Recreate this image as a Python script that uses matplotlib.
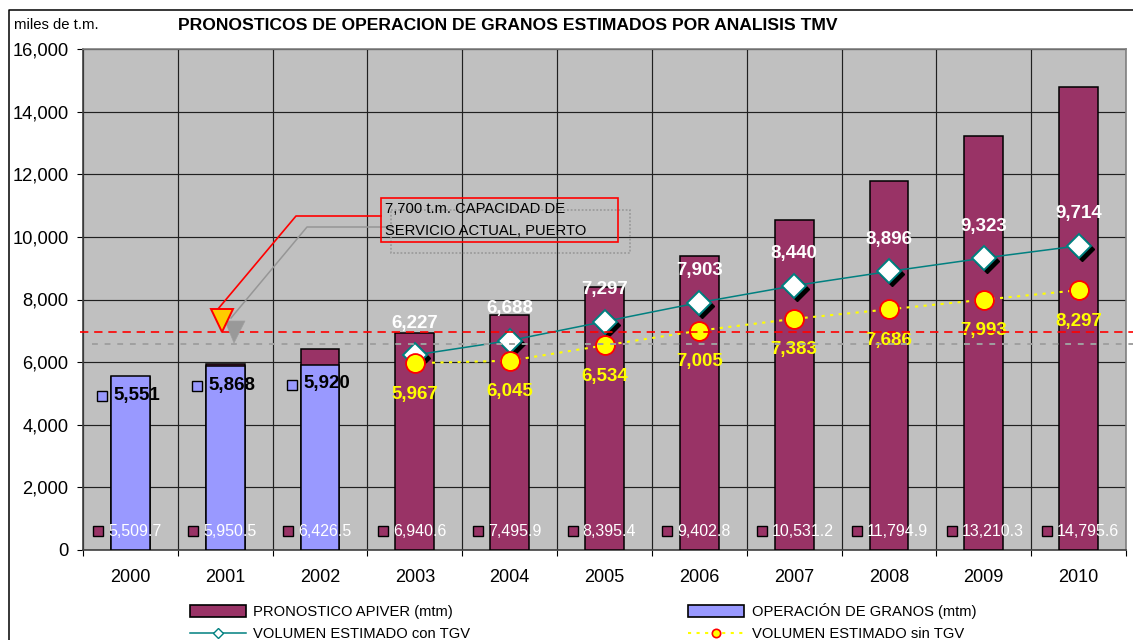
import matplotlib
matplotlib.use("Agg")
import matplotlib.pyplot as plt
from matplotlib.lines import Line2D
from matplotlib.patches import Patch, Polygon, Rectangle
from matplotlib.transforms import ScaledTranslation, blended_transform_factory, Affine2D

years = ["2000", "2001", "2002", "2003", "2004", "2005", "2006", "2007", "2008", "2009", "2010"]
pronostico = [5509.7, 5950.5, 6426.5, 6940.6, 7495.9, 8395.4, 9402.8, 10531.2, 11794.9, 13210.3, 14795.6]
operacion = [5551, 5868, 5920]
con_tgv = [6227, 6688, 7297, 7903, 8440, 8896, 9323, 9714]
sin_tgv = [5967, 6045, 6534, 7005, 7383, 7686, 7993, 8297]
capacity_line = 6960
capacity_shadow = 6590
yticks = [0, 2000, 4000, 6000, 8000, 10000, 12000, 14000, 16000]

W, H = 1133, 640
DPI = 100
PURPLE, BLUE, GRAY = "#993366", "#9999FF", "#C0C0C0"
TEAL = "#008080"
plt.rcParams["font.family"] = ["Liberation Sans", "DejaVu Sans"]

fig = plt.figure(figsize=(W / DPI, H / DPI), dpi=DPI, facecolor="white")
L, R, T, B = 83, 1126, 49, 550
ax = fig.add_axes([L / W, 1 - B / H, (R - L) / W, (B - T) / H], facecolor=GRAY)

# screen-pixel coordinates (y down) for drawn shapes and legend placement
pix = Affine2D().scale(1 / W, -1 / H).translate(0, 1) + fig.transFigure


def shift(dx, dy):
    return ax.transData + ScaledTranslation(dx / DPI, -dy / DPI, fig.dpi_scale_trans)


x = list(range(len(years)))
ax.bar(x, pronostico, width=0.41, color=PURPLE, edgecolor="black", linewidth=1.1, zorder=3)
ax.bar(x[:len(operacion)], operacion, width=0.41, color=BLUE, edgecolor="black", linewidth=1.1, zorder=4)

lx = x[3:]
ax.plot(lx, sin_tgv, ls=(0, (1.5, 2.6)), color="#FFFF00", lw=1.5, zorder=5)
ax.plot(lx, con_tgv, color=TEAL, lw=1.1, zorder=6)
ax.plot(lx, con_tgv, ls="none", marker="D", ms=12, color="black", transform=shift(3, 3), zorder=6)
ax.plot(lx, con_tgv, ls="none", marker="D", ms=12, mfc="white", mec=TEAL, mew=1.4, zorder=7)
ax.plot(lx, sin_tgv, ls="none", marker="o", ms=13.6, mfc="#FFFF00", mec="#FF0000", mew=1.3, zorder=8)

for xi, v in zip(lx, con_tgv):
    ax.annotate(f"{v:,}", (xi, v), xytext=(0, 32), textcoords="offset pixels", ha="center", va="center",
                color="white", fontsize=13.5, fontweight="bold", zorder=9)
for xi, v in zip(lx, sin_tgv):
    ax.annotate(f"{v:,}", (xi, v), xytext=(0, -31), textcoords="offset pixels", ha="center", va="center",
                color="#FFFF00", fontsize=13.5, fontweight="bold", zorder=9)
for xi, v in zip(x, operacion):
    ax.annotate(f"{v:,}", (xi, v), xytext=(-17, -19), textcoords="offset pixels", ha="left", va="center",
                color="black", fontsize=13.5, fontweight="bold", zorder=9)
    ax.plot([xi], [v], marker="s", ms=7.6, mfc=BLUE, mec="black", mew=1, transform=shift(-28, 20), zorder=9)
for xi, v in zip(x, pronostico):
    ax.annotate(f"{v:,.1f}", (xi, 0), xytext=(-22, 19), textcoords="offset pixels", ha="left", va="center",
                color="white", fontsize=11.5, zorder=9)
    ax.plot([xi], [0], marker="s", ms=7, mfc=PURPLE, mec="black", mew=1, transform=shift(-32, -19), zorder=9)

ax.set_xlim(-0.5, 10.5)
ax.set_ylim(0, 16000)
ax.set_yticks(yticks)
ax.set_yticklabels([f"{v:,}" for v in yticks])
ax.set_xticks(x)
ax.set_xticklabels(years)
ax.set_xticks([i - 0.5 for i in range(len(years) + 1)], minor=True)
ax.tick_params(axis="x", which="major", length=0, pad=13.5, labelsize=13, colors="black")
ax.tick_params(axis="x", which="minor", length=4.5, width=0.8, color="black")
ax.tick_params(axis="y", length=4.5, width=0.8, pad=6, labelsize=13.2, color="black")
ax.grid(True, axis="y", color="#202020", lw=0.85, zorder=1)
ax.grid(True, axis="x", which="minor", color="#202020", lw=0.85, zorder=1)
ax.set_axisbelow(True)
for side, sp in ax.spines.items():
    sp.set_color("#808080" if side in ("top", "right") else "#404040")
    sp.set_linewidth(1.2)

# outer chart frame (top and left edges only are visible)
fig.add_artist(Line2D([9, 9, W], [H, 10, 10], color="black", lw=1.1, transform=pix))

fig.text(14 / W, 1 - 25 / H, "miles de t.m.", fontsize=10.7, va="center", ha="left")
fig.text(178 / W, 1 - 26 / H, "PRONOSTICOS DE OPERACION DE GRANOS ESTIMADOS POR ANALISIS TMV",
         fontsize=12.6, fontweight="bold", va="center", ha="left")

# horizontal reference lines
hline = blended_transform_factory(pix, ax.transData)
ax.add_line(Line2D([92, W], [capacity_shadow] * 2, transform=hline, color="#A0A0A0", lw=1.4,
                   ls=(0, (3, 3.5)), clip_on=False, zorder=9))
ax.add_line(Line2D([80, W], [capacity_line] * 2, transform=hline, color="#FF0000", lw=1.2,
                   ls=(0, (5, 3.5)), clip_on=False, zorder=10))

# callout with its shadow
sh = "#969696"
fig.add_artist(Rectangle((391, 210), 239, 43, transform=pix, fill=False, ec=sh, lw=1.1, ls=(0, (1.2, 1.2)), zorder=5))
fig.add_artist(Line2D([391, 307, 231], [227, 227, 318], transform=pix, color=sh, lw=1.1, zorder=5))
fig.add_artist(Polygon([(225, 321), (245, 321), (234, 343)], closed=True, transform=pix, fc="#999999", ec="#A0A0A0", lw=0.5, zorder=5))
fig.add_artist(Line2D([381, 296, 218], [216, 216, 309], transform=pix, color="#FF0000", lw=1.2, zorder=6))
fig.add_artist(Polygon([(211, 309), (233, 309), (222, 332)], closed=True, transform=pix, fc="#FFCC00", ec="#FF0000", lw=1.4, zorder=6))
fig.add_artist(Rectangle((381, 198), 237, 44, transform=pix, fill=False, ec="#FF0000", lw=1.2, zorder=6))
for ty, s in [(209, "7,700 t.m. CAPACIDAD DE"), (231, "SERVICIO ACTUAL, PUERTO")]:
    fig.text(385 / W, 1 - ty / H, s, fontsize=10.6, va="center", ha="left", color="black", zorder=7)

handles = [
    Patch(fc=PURPLE, ec="black", lw=1.2),
    Line2D([], [], color=TEAL, lw=1.1, marker="D", ms=5, mfc="white", mec=TEAL, mew=1),
    Patch(fc=BLUE, ec="black", lw=1.2),
    Line2D([], [], color="#FFFF00", lw=1.5, ls=(0, (1.5, 2.6)), marker="o", ms=6, mfc="#FFFF00", mec="#FF0000", mew=1.2),
]
labels = ["PRONOSTICO APIVER (mtm)", "VOLUMEN ESTIMADO con TGV", "OPERACIÓN DE GRANOS (mtm)", "VOLUMEN ESTIMADO sin TGV"]
fig.legend(handles, labels, ncol=2, loc="upper left", bbox_to_anchor=(190 / W, 1 - 603 / H), bbox_transform=fig.transFigure,
           frameon=False, fontsize=10.6, borderpad=0, borderaxespad=0, handlelength=3.8, handleheight=0.8,
           handletextpad=0.5, columnspacing=14.8, labelspacing=0.55)

fig.savefig("out.png", dpi=DPI, facecolor="white")
